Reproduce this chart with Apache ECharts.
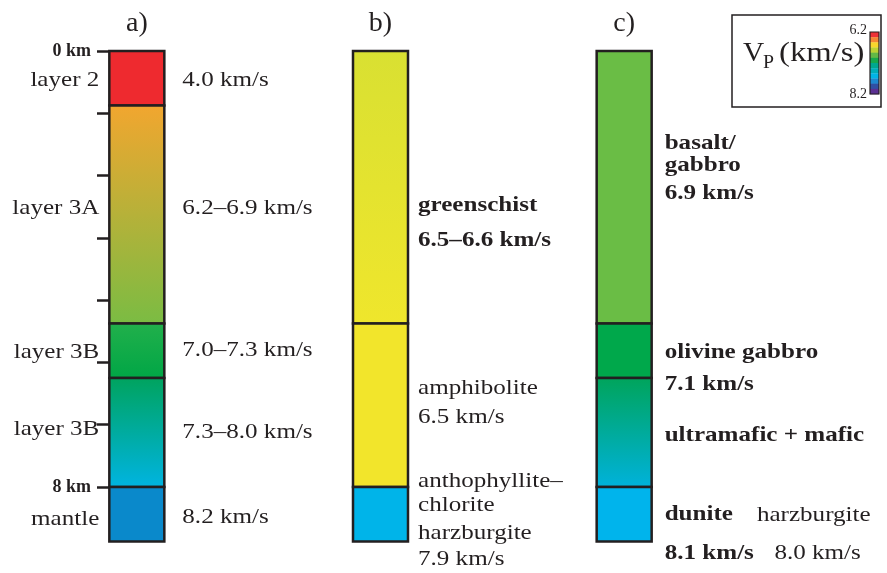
<!DOCTYPE html>
<html><head><meta charset="utf-8">
<script src="https://cdn.jsdelivr.net/npm/echarts@6/dist/echarts.min.js"></script>
<style>html,body{margin:0;padding:0;background:#fff}#c{width:887px;height:573px}</style>
</head><body><div id="c"></div>
<script>
// ---- data ----
const columns = ['a)', 'b)', 'c)'];
const depthMax = 8;            // km at the "8 km" tick
const tickCount = 7;           // intervals between 0 km and 8 km ticks
const boundsA = [0, 1, 5, 6, 8, 9];
const boundsB = [0, 5, 8, 9];
const boundsC = [0, 5, 6, 8, 9];
const colorsA = [['#ee2a2f','#ee2a2f'], ['#f2a62f','#7abc43'], ['#22b04b','#00a646'], ['#00a35d','#00b4e2'], ['#0a89cb','#0a89cb']];
const colorsB = [['#d9e032','#efe62c'], ['#f2e52b','#f2e52b'], ['#00b4e9','#00b4e9']];
const colorsC = [['#6abd45','#6abd45'], ['#00a84b','#00a84b'], ['#00a45a','#00b2dc'], ['#00b4ec','#00b4ec']];

const aLeftTexts  = ['layer 2', 'layer 3A', 'layer 3B', 'layer 3B', 'mantle'];
const aLeftDepths = [0.53, 2.88, 5.52, 6.94, 8.59];
const aRightTexts  = ['4.0 km/s', '6.2–6.9 km/s', '7.0–7.3 km/s', '7.3–8.0 km/s', '8.2 km/s'];
const aRightDepths = [0.53, 2.88, 5.49, 6.99, 8.55];
const bTexts  = ['{b|greenschist}', '{b|6.5–6.6 km/s}', 'amphibolite', '6.5 km/s', 'anthophyllite–', 'chlorite', 'harzburgite', '7.9 km/s'];
const bDepths = [2.83, 3.47, 6.18, 6.72, 7.89, 8.33, 8.84, 9.32];
const cTexts  = ['{b|basalt/}', '{b|gabbro}', '{b|6.9 km/s}', '{b|olivine gabbro}', '{b|7.1 km/s}', '{b|ultramafic + mafic}', '{b|dunite}{n|harzburgite}', '{b|8.1 km/s}{m|8.0 km/s}'];
const cDepths = [1.69, 2.09, 2.61, 5.52, 6.11, 7.05, 8.51, 9.21];

const legendColors = ['#ed3237','#f58634','#f8d62c','#bcd233','#62b946','#17a84b','#00a78e','#00adb8','#00b4e6','#1d88d0','#2f4fa3','#5a2f92'];
const legendTicks = ['6.2', '8.2'];

// ---- build tables ----
const allBounds = [boundsA, boundsB, boundsC];
const allColors = [colorsA, colorsB, colorsC];
const segData = [];
allBounds.forEach((b, i) => { for (let j = 0; j < b.length - 1; j++) segData.push([i, b[j], b[j + 1], j]); });

const labelTable = [];
aLeftTexts.forEach((t, k) => labelTable.push({ col: 0, depth: aLeftDepths[k], side: 0, text: t }));
aRightTexts.forEach((t, k) => labelTable.push({ col: 0, depth: aRightDepths[k], side: 1, text: t }));
bTexts.forEach((t, k) => labelTable.push({ col: 1, depth: bDepths[k], side: 1, text: t }));
cTexts.forEach((t, k) => labelTable.push({ col: 2, depth: cDepths[k], side: 1, text: t }));
const labelData = labelTable.map((d, k) => [d.col, d.depth, d.side, k]);

// ---- style ----
const INK = '#231f20';
const FONT = '"Liberation Serif", "Times New Roman", serif';
const BAR_W = 55;
const FS = 22;
const SX = 1.14;
const gapRight = [18, 10, 13];

function renderSeg(params, api) {
  const col = api.value(0), k = api.value(3);
  const p0 = api.coord([col, api.value(1)]);
  const p1 = api.coord([col, api.value(2)]);
  const c = allColors[col][k];
  return {
    type: 'rect',
    shape: { x: p0[0] - BAR_W / 2, y: p0[1], width: BAR_W, height: p1[1] - p0[1] },
    style: {
      fill: new echarts.graphic.LinearGradient(0, 0, 0, 1, [{ offset: 0, color: c[0] }, { offset: 1, color: c[1] }]),
      stroke: INK, lineWidth: 2.5
    }
  };
}

function renderLabel(params, api) {
  const col = api.value(0), side = api.value(2), d = labelTable[api.value(3)];
  const p = api.coord([col, api.value(1)]);
  const x = side === 0 ? p[0] - BAR_W / 2 - 10 : p[0] + BAR_W / 2 + gapRight[col];
  return {
    type: 'text', x: x, y: p[1], scaleX: SX,
    style: {
      text: d.text, fill: INK, fontSize: FS, fontFamily: FONT,
      align: side === 0 ? 'right' : 'left', verticalAlign: 'middle',
      rich: {
        b: { fontSize: FS, fontFamily: FONT, fontWeight: 'bold', fill: INK },
        n: { fontSize: FS, fontFamily: FONT, fill: INK, padding: [0, 0, 0, 21] },
        m: { fontSize: FS, fontFamily: FONT, fill: INK, padding: [0, 0, 0, 18] }
      }
    }
  };
}

// legend graphics
const LX = 732, LY = 15, LW = 149, LH = 92;
const CBX = 870, CBY = 32, CBW = 9, CBH = 62;
const legendGraphics = [
  { type: 'rect', shape: { x: LX, y: LY, width: LW, height: LH }, style: { fill: '#fff', stroke: INK, lineWidth: 1.5 }, z: 10 },
  { type: 'text', x: 743, y: 54, scaleX: 1.05, style: { text: 'V', fontSize: 28, fontFamily: FONT, fill: INK, verticalAlign: 'middle' }, z: 11 },
  { type: 'text', x: 763, y: 63, scaleX: 1.1, style: { text: 'P', fontSize: 18, fontFamily: FONT, fill: INK, verticalAlign: 'middle' }, z: 11 },
  { type: 'text', x: 779, y: 54, scaleX: 1.17, style: { text: '(km/s)', fontSize: 28, fontFamily: FONT, fill: INK, verticalAlign: 'middle' }, z: 11 },
  { type: 'text', x: 867, y: 30, style: { text: legendTicks[0], fontSize: 14, fontFamily: FONT, fill: INK, align: 'right', verticalAlign: 'middle' }, z: 11 },
  { type: 'text', x: 867, y: 94, style: { text: legendTicks[1], fontSize: 14, fontFamily: FONT, fill: INK, align: 'right', verticalAlign: 'middle' }, z: 11 }
];
const stepH = CBH / legendColors.length;
legendColors.forEach((c, i) => legendGraphics.push({
  type: 'rect', shape: { x: CBX, y: CBY + i * stepH, width: CBW, height: stepH + 0.3 }, style: { fill: c }, z: 11
}));
legendGraphics.push({ type: 'rect', shape: { x: CBX, y: CBY, width: CBW, height: CBH }, style: { fill: 'none', stroke: INK, lineWidth: 1.2 }, z: 12 });

const chart = echarts.init(document.getElementById('c'), null, { renderer: 'canvas' });
chart.setOption({
  backgroundColor: '#fff',
  animation: false,
  grid: { left: 15, right: 141, top: 51, bottom: 86, containLabel: false, outerBoundsMode: 'none' },
  xAxis: {
    type: 'category', data: columns, position: 'top',
    axisLine: { show: false }, axisTick: { show: false }, splitLine: { show: false },
    axisLabel: { color: INK, fontSize: 28, fontFamily: FONT, margin: 13 }
  },
  yAxis: {
    type: 'value', inverse: true, min: 0, max: depthMax, interval: depthMax / tickCount,
    offset: -94, position: 'left',
    axisLine: { show: false }, splitLine: { show: false },
    axisTick: { show: true, length: 12, lineStyle: { color: INK, width: 2.5 } },
    axisLabel: {
      margin: 18, color: INK, fontSize: 18, fontWeight: 'bold', fontFamily: FONT,
      formatter: v => (Math.abs(v) < 1e-6 ? '0 km' : (Math.abs(v - depthMax) < 1e-3 ? depthMax + ' km' : ''))
    }
  },
  series: [
    { type: 'custom', renderItem: renderSeg, data: segData, clip: false, z: 3 },
    { type: 'custom', renderItem: renderLabel, data: labelData, clip: false, z: 4 }
  ],
  graphic: legendGraphics
});
</script></body></html>
